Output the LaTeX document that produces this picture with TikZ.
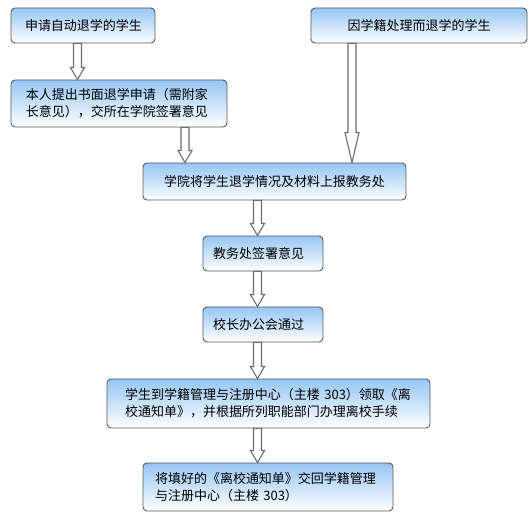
\documentclass[tikz,border=0pt]{standalone}
\usepackage{fontspec}
\setmainfont{Noto Sans CJK SC}
\usetikzlibrary{calc}
\definecolor{boxtop}{RGB}{150,198,244}
\definecolor{boxline}{RGB}{90,90,90}
\definecolor{arrline}{RGB}{110,110,110}
\tikzset{
  box/.style={draw=boxline, line width=0.9pt, rounded corners=4pt,
    top color=boxtop, bottom color=white, inner ysep=0pt,
    font=\fontsize{13}{17}\selectfont, align=left},
  harrow/.style={draw=arrline, fill=white, line width=1.1pt,
    to path={let \p1=(\tikztostart), \p2=(\tikztotarget) in
      (\x1-4pt,\y1) -- (\x1-4pt,\y2+#1) -- (\x1-7pt,\y2+#1) -- (\x1,\y2)
      -- (\x1+7pt,\y2+#1) -- (\x1+4pt,\y2+#1) -- (\x1+4pt,\y1) -- cycle}},
  harrow/.default=12pt
}
\begin{document}
\begin{tikzpicture}[x=1pt, y=-1pt]
        \useasboundingbox (0,0) rectangle (531,521);

        % 箭头所在的竖线
        \coordinate (c1) at (77.5,0);
        \coordinate (c2) at (185,0);
        \coordinate (c3) at (352,0);
        \coordinate (c4) at (257.5,0);

        % 方框
        \node[box, text width=116pt, inner xsep=14pt, minimum height=35pt] (b1) at (83,25.5) {申请自动退学的学生};
        \node[box, text width=216pt, inner xsep=0pt, minimum height=35pt, align=center] (b3) at (419,25.5) {因学籍处理而退学的学生};
        \node[box, text width=186pt, inner xsep=15pt, minimum height=47pt] (b2) at (119,103.5) {本人提出书面退学申请（需附家\\长意见），交所在学院签署意见};
        \node[box, text width=263pt, inner xsep=0pt, minimum height=37pt, align=center] (b4) at (274.5,181.5) {学院将学生退学情况及材料上报教务处};
        \node[box, text width=100pt, inner xsep=10pt, minimum height=35pt] (b5) at (263,253.5) {教务处签署意见};
        \node[box, text width=100pt, inner xsep=10pt, minimum height=35pt] (b6) at (263,324.5) {校长办公会通过};
        \node[box, text width=287pt, inner xsep=18pt, minimum height=49pt] (b7) at (268.5,403.5) {学生到学籍管理与注册中心（主楼 303）领取《离\\校通知单》，并根据所列职能部门办理离校手续};
        \node[box, text width=226pt, inner xsep=12pt, minimum height=48pt] (b8) at (268,487) {将填好的《离校通知单》交回学籍管理\\与注册中心（主楼 303）};

        % 空心箭头
        \draw[harrow] (b1.south -| c1) to (b2.north -| c1);
        \draw[harrow] (b2.south -| c2) to (b4.north -| c2);
        \draw[harrow=30pt] (b3.south -| c3) to (b4.north -| c3);
        \draw[harrow] (b4.south -| c4) to (b5.north -| c4);
        \draw[harrow] (b5.south -| c4) to (b6.north -| c4);
        \draw[harrow] (b6.south -| c4) to (b7.north -| c4);
        \draw[harrow] (b7.south -| c4) to (b8.north -| c4);

    \end{tikzpicture}
\end{document}
